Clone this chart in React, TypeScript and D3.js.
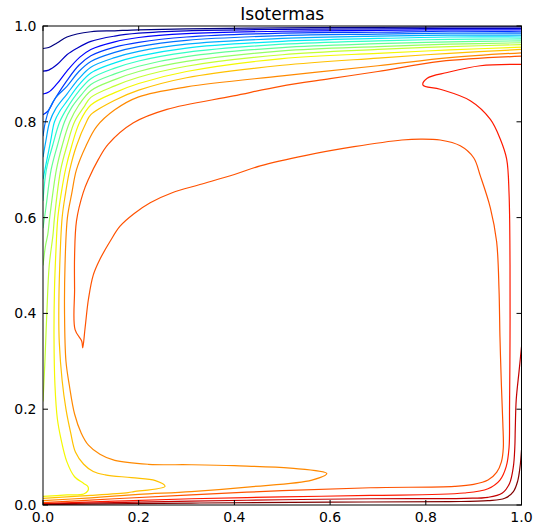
import React from "react";
import * as d3 from "d3";

const title = "Isotermas";
const xTicks = [0, 0.2, 0.4, 0.6, 0.8, 1.0];
const yTicks = [0, 0.2, 0.4, 0.6, 0.8, 1.0];

// Isotherms, coldest (index 0) to warmest (index 17), [x, y]
const iso00 = [[0,0.953],[0.012,0.955],[0.03,0.965],[0.05,0.977],[0.1,0.988],[0.15,0.99],[0.2,0.992],[0.3,0.994],[0.5,0.996],[0.7,0.997],[0.85,0.998],[1,0.998]];
const iso01 = [[0,0.906],[0.012,0.908],[0.03,0.92],[0.05,0.94],[0.07,0.953],[0.1,0.968],[0.15,0.979],[0.2,0.985],[0.3,0.99],[0.5,0.993],[0.7,0.994],[0.85,0.995],[1,0.995]];
const iso02 = [[0,0.858],[0.012,0.862],[0.029,0.879],[0.05,0.906],[0.077,0.935],[0.1,0.951],[0.15,0.967],[0.2,0.976],[0.3,0.984],[0.5,0.989],[0.7,0.991],[0.85,0.992],[1,0.992]];
const iso03 = [[0,0.815],[0.01,0.822],[0.025,0.848],[0.05,0.886],[0.075,0.918],[0.1,0.938],[0.15,0.956],[0.2,0.966],[0.3,0.977],[0.5,0.985],[0.7,0.987],[0.85,0.989],[1,0.988]];
const iso04 = [[0,0.77],[0.005,0.8],[0.013,0.826],[0.027,0.851],[0.05,0.874],[0.075,0.905],[0.1,0.926],[0.15,0.945],[0.2,0.957],[0.3,0.97],[0.5,0.98],[0.7,0.983],[0.85,0.985],[1,0.985]];
const iso05 = [[0,0.726],[0.006,0.76],[0.014,0.8],[0.027,0.828],[0.05,0.858],[0.075,0.89],[0.1,0.914],[0.15,0.934],[0.2,0.947],[0.3,0.962],[0.5,0.974],[0.7,0.979],[0.85,0.981],[1,0.981]];
const iso06 = [[0,0.68],[0.008,0.72],[0.016,0.76],[0.024,0.8],[0.035,0.822],[0.05,0.843],[0.075,0.877],[0.1,0.902],[0.15,0.923],[0.2,0.937],[0.3,0.954],[0.5,0.968],[0.7,0.974],[0.85,0.977],[1,0.977]];
const iso07 = [[0,0.635],[0.007,0.7],[0.02,0.75],[0.035,0.8],[0.05,0.828],[0.075,0.864],[0.1,0.89],[0.15,0.912],[0.2,0.927],[0.3,0.945],[0.5,0.962],[0.7,0.969],[0.85,0.972],[1,0.973]];
const iso08 = [[0,0.578],[0.006,0.62],[0.017,0.7],[0.03,0.75],[0.045,0.8],[0.06,0.83],[0.08,0.856],[0.1,0.878],[0.15,0.9],[0.2,0.916],[0.3,0.936],[0.5,0.955],[0.7,0.963],[0.85,0.967],[1,0.969]];
const iso09 = [[0,0.5],[0.005,0.54],[0.01,0.565],[0.014,0.6],[0.028,0.7],[0.04,0.75],[0.056,0.8],[0.075,0.835],[0.1,0.865],[0.15,0.888],[0.2,0.905],[0.3,0.926],[0.5,0.948],[0.7,0.957],[0.85,0.962],[1,0.965]];
const iso10 = [[0,0.216],[0.004,0.3],[0.008,0.4],[0.013,0.5],[0.021,0.565],[0.024,0.6],[0.037,0.7],[0.05,0.75],[0.066,0.8],[0.085,0.83],[0.1,0.851],[0.15,0.875],[0.2,0.893],[0.3,0.916],[0.5,0.94],[0.7,0.951],[0.85,0.957],[1,0.961]];
const iso11 = [[0,0.018],[0.05,0.021],[0.085,0.023],[0.094,0.03],[0.094,0.038],[0.085,0.045],[0.066,0.059],[0.05,0.09],[0.038,0.136],[0.03,0.18],[0.025,0.25],[0.023,0.35],[0.024,0.45],[0.027,0.53],[0.031,0.6],[0.038,0.65],[0.047,0.7],[0.06,0.75],[0.077,0.8],[0.1,0.835],[0.15,0.861],[0.2,0.88],[0.3,0.905],[0.5,0.932],[0.7,0.943],[0.85,0.95],[1,0.956]];
const iso12 = [[0,0.014],[0.1,0.02],[0.178,0.026],[0.19,0.028],[0.255,0.039],[0.235,0.051],[0.185,0.057],[0.13,0.063],[0.105,0.07],[0.085,0.085],[0.068,0.11],[0.058,0.15],[0.048,0.2],[0.04,0.26],[0.034,0.34],[0.033,0.4],[0.035,0.5],[0.04,0.6],[0.047,0.65],[0.056,0.7],[0.07,0.75],[0.091,0.8],[0.1,0.815],[0.15,0.845],[0.2,0.866],[0.3,0.892],[0.5,0.918],[0.7,0.933],[0.85,0.943],[1,0.951]];
const iso13 = [[0,0.009],[0.1,0.015],[0.2,0.022],[0.31,0.028],[0.433,0.038],[0.562,0.052],[0.593,0.066],[0.517,0.077],[0.4,0.082],[0.31,0.084],[0.22,0.085],[0.15,0.093],[0.119,0.106],[0.095,0.125],[0.08,0.15],[0.066,0.19],[0.055,0.25],[0.048,0.3],[0.045,0.4],[0.046,0.5],[0.051,0.6],[0.06,0.65],[0.07,0.7],[0.09,0.75],[0.112,0.79],[0.15,0.825],[0.2,0.852],[0.3,0.873],[0.5,0.896],[0.7,0.917],[0.85,0.934],[1,0.944]];
const iso14 = [[1,0.937],[0.83,0.926],[0.7,0.905],[0.6,0.89],[0.496,0.874],[0.398,0.854],[0.259,0.826],[0.189,0.798],[0.136,0.753],[0.116,0.722],[0.095,0.68],[0.084,0.652],[0.07,0.593],[0.066,0.52],[0.066,0.45],[0.067,0.366],[0.081,0.342],[0.083,0.328],[0.088,0.37],[0.095,0.43],[0.105,0.48],[0.119,0.513],[0.14,0.55],[0.161,0.582],[0.19,0.608],[0.224,0.631],[0.27,0.652],[0.328,0.669],[0.4,0.69],[0.454,0.708],[0.55,0.73],[0.65,0.748],[0.75,0.762],[0.789,0.764],[0.83,0.762],[0.872,0.75],[0.9,0.725],[0.914,0.687],[0.935,0.62],[0.948,0.55],[0.953,0.45],[0.955,0.35],[0.958,0.25],[0.961,0.17],[0.962,0.12],[0.958,0.09],[0.948,0.068],[0.93,0.052],[0.9,0.043],[0.86,0.039],[0.684,0.036],[0.5,0.03],[0.31,0.021],[0.15,0.013],[0,0.005]];
const iso15 = [[1,0.92],[0.914,0.917],[0.845,0.903],[0.803,0.891],[0.794,0.877],[0.83,0.868],[0.893,0.844],[0.935,0.805],[0.956,0.763],[0.969,0.722],[0.974,0.65],[0.976,0.5],[0.976,0.35],[0.975,0.2],[0.974,0.12],[0.968,0.08],[0.955,0.052],[0.93,0.034],[0.88,0.025],[0.684,0.02],[0.5,0.017],[0.31,0.013],[0.15,0.008],[0,0.003]];
const iso16 = [[1,0.33],[0.995,0.28],[0.989,0.22],[0.987,0.16],[0.986,0.12],[0.983,0.08],[0.975,0.045],[0.96,0.025],[0.93,0.016],[0.88,0.014],[0.684,0.013],[0.5,0.011],[0.31,0.008],[0.15,0.005],[0,0.002]];
const iso17 = [[1,0.115],[0.997,0.08],[0.992,0.05],[0.983,0.028],[0.965,0.014],[0.93,0.009],[0.85,0.007],[0.6,0.006],[0.31,0.004],[0,0.001]];

const isotherms = [iso00, iso01, iso02, iso03, iso04, iso05, iso06, iso07, iso08, iso09, iso10, iso11, iso12, iso13, iso14, iso15, iso16, iso17];

// matplotlib "jet" colormap
const jetR = d3.scaleLinear().domain([0, 0.35, 0.66, 0.89, 1]).range([0, 0, 1, 1, 0.5]).clamp(true);
const jetG = d3.scaleLinear().domain([0, 0.125, 0.375, 0.64, 0.91, 1]).range([0, 0, 1, 1, 0, 0]).clamp(true);
const jetB = d3.scaleLinear().domain([0, 0.11, 0.34, 0.65, 1]).range([0.5, 1, 1, 0, 0]).clamp(true);
const jet = (t: number) => d3.rgb(jetR(t) * 255, jetG(t) * 255, jetB(t) * 255).formatHex();

const W = 539;
const H = 529;
const left = 43;
const right = 521.5;
const top = 26;
const bottom = 505;

export default function App() {
  const x = d3.scaleLinear().domain([0, 1]).range([left, right]);
  const y = d3.scaleLinear().domain([0, 1]).range([bottom, top]);
  const line = d3
    .line<number[]>()
    .x((d) => x(d[0]))
    .y((d) => y(d[1]))
    .curve(d3.curveCatmullRom.alpha(0.5));
  const n = isotherms.length;
  const font = "DejaVu Sans, sans-serif";
  const tl = 5;
  return (
    <svg
      width={W}
      height={H}
      style={{ position: "absolute", left: 0, top: 0, background: "#fff" }}
    >
      <defs>
        <clipPath id="plot">
          <rect x={left} y={top} width={right - left} height={bottom - top} />
        </clipPath>
      </defs>
      <rect x={0} y={0} width={W} height={H} fill="#fff" />
      <g clipPath="url(#plot)">
        {isotherms.map((pts, i) => (
          <path
            key={i}
            d={line(pts) || ""}
            fill="none"
            stroke={jet(i / (n - 1))}
            strokeWidth={1.2}
          />
        ))}
      </g>
      <rect
        x={left}
        y={top}
        width={right - left}
        height={bottom - top}
        fill="none"
        stroke="#000"
        strokeWidth={1}
      />
      {xTicks.map((t) => (
        <g key={"x" + t}>
          <line x1={x(t)} x2={x(t)} y1={bottom} y2={bottom - tl} stroke="#000" />
          <line x1={x(t)} x2={x(t)} y1={top} y2={top + tl} stroke="#000" />
          <text
            x={x(t)}
            y={522}
            textAnchor="middle"
            fontFamily={font}
            fontSize={14}
            fill="#000"
          >
            {t.toFixed(1)}
          </text>
        </g>
      ))}
      {yTicks.map((t) => (
        <g key={"y" + t}>
          <line x1={left} x2={left + tl} y1={y(t)} y2={y(t)} stroke="#000" />
          <line x1={right} x2={right - tl} y1={y(t)} y2={y(t)} stroke="#000" />
          <text
            x={36.5}
            y={y(t)}
            dy="0.36em"
            textAnchor="end"
            fontFamily={font}
            fontSize={14}
            fill="#000"
          >
            {t.toFixed(1)}
          </text>
        </g>
      ))}
      <text
        x={(left + right) / 2}
        y={20}
        textAnchor="middle"
        fontFamily={font}
        fontSize={17}
        fill="#000"
      >
        {title}
      </text>
    </svg>
  );
}
